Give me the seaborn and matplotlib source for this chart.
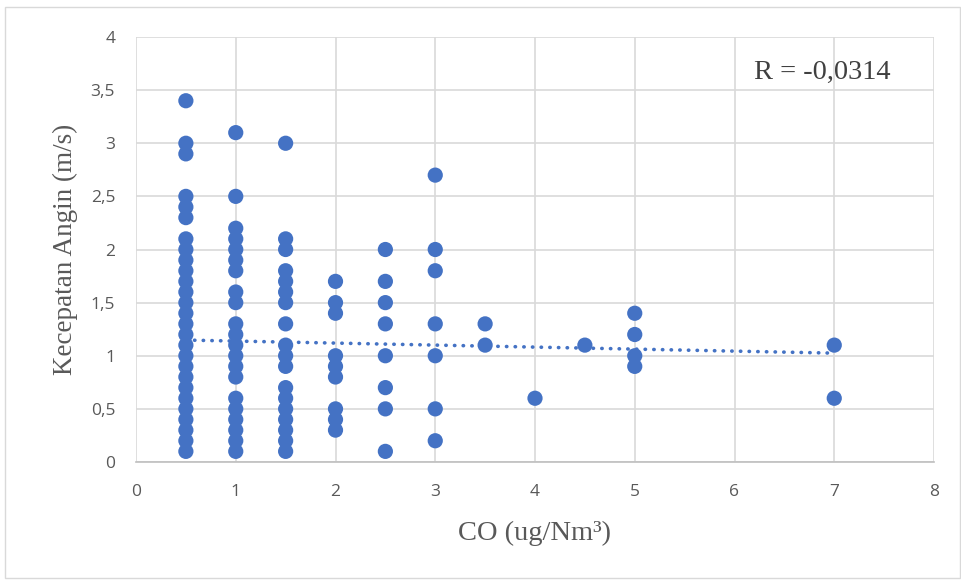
import numpy as np
import pandas as pd
import matplotlib
matplotlib.use("Agg")
import matplotlib.pyplot as plt
import seaborn as sns
from matplotlib.patches import Rectangle
from matplotlib.ticker import FuncFormatter, MultipleLocator

# CO concentration (ug/Nm3) grouped by level, with the wind speeds (m/s) observed at each
co_levels = [0.5, 1.0, 1.5, 2.0, 2.5, 3.0, 3.5, 4.0, 4.5, 5.0, 7.0]
wind_at_0_5 = [0.1, 0.2, 0.3, 0.4, 0.5, 0.6, 0.7, 0.8, 0.9, 1.0, 1.1, 1.2, 1.3, 1.4,
               1.5, 1.6, 1.7, 1.8, 1.9, 2.0, 2.1, 2.3, 2.4, 2.5, 2.9, 3.0, 3.4]
wind_at_1_0 = [0.1, 0.2, 0.3, 0.4, 0.5, 0.6, 0.8, 0.9, 1.0, 1.1, 1.2, 1.3, 1.5, 1.6,
               1.8, 1.9, 2.0, 2.1, 2.2, 2.5, 3.1]
wind_at_1_5 = [0.1, 0.2, 0.3, 0.4, 0.5, 0.6, 0.7, 0.9, 1.0, 1.1, 1.3, 1.5, 1.6, 1.7,
               1.8, 2.0, 2.1, 3.0]
wind_at_2_0 = [0.3, 0.4, 0.5, 0.8, 0.9, 1.0, 1.4, 1.5, 1.7]
wind_at_2_5 = [0.1, 0.5, 0.7, 1.0, 1.3, 1.5, 1.7, 2.0]
wind_at_3_0 = [0.2, 0.5, 1.0, 1.3, 1.8, 2.0, 2.7]
wind_at_3_5 = [1.1, 1.3]
wind_at_4_0 = [0.6]
wind_at_4_5 = [1.1]
wind_at_5_0 = [0.9, 1.0, 1.2, 1.4]
wind_at_7_0 = [0.6, 1.1]

# Linear trend of the full (overlapping) record set
trend_intercept = 1.157
trend_slope = -0.0189
r_label = "R = -0,0314"

groups = [wind_at_0_5, wind_at_1_0, wind_at_1_5, wind_at_2_0, wind_at_2_5, wind_at_3_0,
          wind_at_3_5, wind_at_4_0, wind_at_4_5, wind_at_5_0, wind_at_7_0]
df = pd.DataFrame(
    [(co, w) for co, ws in zip(co_levels, groups) for w in ws],
    columns=["co", "wind"],
)

sns.set_theme(style="white")
plt.rcParams["font.family"] = ["DejaVu Sans"]

blue = "#4472C4"
grid = "#d9d9d9"

fig = plt.figure(figsize=(9.61, 5.81), dpi=100)
fig.patches.append(Rectangle((5 / 961, 3 / 581), 955 / 961, 571 / 581,
                             transform=fig.transFigure, fill=False,
                             edgecolor=grid, linewidth=1.0))
ax = fig.add_axes([136 / 961, 1 - 462 / 581, (934 - 136) / 961, (462 - 37) / 581])

sns.scatterplot(data=df, x="co", y="wind", ax=ax, color=blue, s=120,
                edgecolor="none", linewidth=0, zorder=3, legend=False)

xs = np.array([df["co"].min(), df["co"].max()])
sns.lineplot(x=xs, y=trend_intercept + trend_slope * xs, ax=ax, color=blue,
             linewidth=2.6, linestyle=(0, (0.1, 2.3)), dash_capstyle="round",
             zorder=4, legend=False)

ax.set_xlim(0, 8)
ax.set_ylim(0, 4)
ax.xaxis.set_major_locator(MultipleLocator(1))
ax.yaxis.set_major_locator(MultipleLocator(0.5))
ax.yaxis.set_major_formatter(FuncFormatter(lambda v, p: f"{v:g}".replace(".", ",")))
ax.grid(True, color=grid, linewidth=1.2, zorder=0)
ax.set_axisbelow(True)
for side, sp in ax.spines.items():
    sp.set_visible(side == "bottom")
ax.spines["bottom"].set_color("#bfbfbf")
ax.spines["bottom"].set_linewidth(1.2)
ax.tick_params(axis="x", length=0, labelsize=12.5, labelcolor="#595959", pad=16)
ax.tick_params(axis="y", length=0, labelsize=12.5, labelcolor="#595959", pad=15)
for lab in ax.get_xticklabels() + ax.get_yticklabels():
    lab.set_family(["Open Sans", "DejaVu Sans"])

ax.set_xlabel("CO (ug/Nm³)", fontsize=20.5, family="Liberation Serif",
              color="#595959", labelpad=15)
ax.set_ylabel("Kecepatan Angin (m/s)", fontsize=19.5, family="Liberation Serif",
              color="#595959", labelpad=9)
ax.text(6.2, 3.67, r_label, fontsize=20.5, family="Liberation Serif",
        color="#404040", va="center", ha="left")

fig.savefig("out.png", dpi=100)
